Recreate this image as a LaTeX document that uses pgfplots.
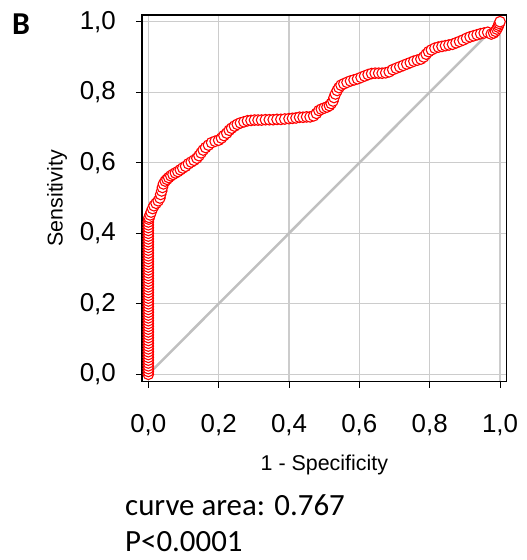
\documentclass[border=0pt]{standalone}
\usepackage{pgfplots}
\pgfplotsset{compat=1.18}
\usepackage{fontspec}
\setmainfont{Liberation Sans}
\newfontfamily\calfont{Carlito}
\definecolor{gridgray}{RGB}{204,204,204}
\definecolor{diaggray}{RGB}{192,192,192}
\definecolor{rocred}{RGB}{255,0,0}
\begin{document}
\begin{tikzpicture}
\path[use as bounding box] (-142bp,-178.3bp) rectangle (385bp,381.7bp);
\begin{axis}[
  scale only axis,
  width=364.7bp, height=366.7bp,
  xmin=-0.018, xmax=1.019, ymin=-0.021, ymax=1.019,
  xtick={0,0.2,0.4,0.6,0.8,1}, ytick={0,0.2,0.4,0.6,0.8,1},
  xtick pos=bottom, ytick pos=left,
  tick align=outside, major tick length=6bp,
  tick style={black, line width=1bp},
  axis line style={black, line width=1.3bp},
  grid=major, major grid style={gridgray, line width=1.3bp},
  /pgf/number format/assume math mode=true,
  /pgf/number format/use comma, /pgf/number format/fixed,
  /pgf/number format/fixed zerofill, /pgf/number format/precision=1,
  ticklabel style={font=\fontsize{26}{30}\selectfont},
  xticklabel style={anchor=base, inner sep=0pt, yshift=-45bp},
  yticklabel style={anchor=east, inner sep=0pt, xshift=-20bp},
  xlabel={1 - Specificity}, ylabel={Sensitivity},
  label style={font=\fontsize{21.5}{24}\selectfont},
  xlabel style={at={(rel axis cs:0.5,0)}, anchor=base, yshift=-88.3bp, inner sep=0pt},
  ylabel style={at={(rel axis cs:0,0.5)}, anchor=center, yshift=85bp, inner sep=0pt},
  clip=false,
]
\addplot[diaggray, line width=2.5bp] coordinates {(0,0) (1,1)};
\addplot[only marks, mark=*, mark size=5.3bp, mark options={draw=rocred, fill=white, line width=1.1bp}] coordinates {
(0,0) (0,0.008) (0,0.016) (0,0.024) (0,0.032) (0,0.04) (0,0.048) (0,0.056) (0,0.064) (0,0.072)
(0,0.08) (0,0.088) (0,0.096) (0,0.104) (0,0.112) (0,0.12) (0,0.128) (0,0.136) (0,0.144) (0,0.152)
(0,0.16) (0,0.168) (0,0.176) (0,0.184) (0,0.192) (0,0.2) (0,0.208) (0,0.216) (0,0.224) (0,0.232)
(0,0.24) (0,0.248) (0,0.256) (0,0.264) (0,0.272) (0,0.28) (0,0.288) (0,0.296) (0,0.304) (0,0.312)
(0,0.32) (0,0.328) (0,0.336) (0,0.344) (0,0.352) (0,0.36) (0,0.368) (0,0.376) (0,0.384) (0,0.392)
(0,0.4) (0,0.408) (0,0.416) (0,0.424) (0,0.432) (0.001,0.44)
(0.002,0.445) (0.005,0.452) (0.008,0.46) (0.012,0.47) (0.016,0.478) (0.022,0.485) (0.028,0.492)
(0.033,0.5) (0.035,0.51) (0.038,0.52) (0.04,0.53) (0.043,0.54) (0.048,0.548) (0.053,0.553)
(0.058,0.558) (0.064,0.563) (0.07,0.567) (0.077,0.571) (0.084,0.575) (0.091,0.58) (0.098,0.585)
(0.106,0.59) (0.114,0.597) (0.122,0.602) (0.13,0.607) (0.138,0.613) (0.144,0.62) (0.15,0.628)
(0.156,0.636) (0.163,0.643) (0.171,0.65) (0.18,0.657) (0.19,0.661) (0.2,0.664) (0.208,0.67)
(0.215,0.677) (0.223,0.684) (0.23,0.692) (0.237,0.698) (0.245,0.704) (0.253,0.709) (0.262,0.713)
(0.272,0.716) (0.282,0.719) (0.292,0.72) (0.302,0.721) (0.312,0.721) (0.322,0.721) (0.333,0.722)
(0.344,0.722) (0.355,0.722) (0.366,0.723) (0.377,0.723) (0.388,0.724) (0.4,0.725) (0.41,0.726)
(0.42,0.727) (0.43,0.729) (0.44,0.729) (0.45,0.73) (0.46,0.73) (0.47,0.733) (0.478,0.74)
(0.485,0.748) (0.492,0.752) (0.5,0.755) (0.508,0.758) (0.515,0.762) (0.52,0.768) (0.525,0.775)
(0.528,0.785) (0.532,0.795) (0.537,0.805) (0.542,0.813) (0.548,0.82) (0.556,0.824) (0.565,0.828)
(0.575,0.832) (0.585,0.835) (0.595,0.838) (0.605,0.842) (0.615,0.846) (0.625,0.85) (0.635,0.853)
(0.645,0.854) (0.655,0.854) (0.665,0.854) (0.675,0.855) (0.685,0.858) (0.695,0.864) (0.705,0.868)
(0.715,0.872) (0.725,0.876) (0.735,0.88) (0.745,0.884) (0.755,0.888) (0.765,0.891) (0.775,0.894)
(0.783,0.9) (0.79,0.908) (0.797,0.915) (0.805,0.92) (0.815,0.925) (0.825,0.928) (0.835,0.93)
(0.845,0.932) (0.855,0.934) (0.865,0.936) (0.875,0.94) (0.885,0.944) (0.895,0.948) (0.905,0.953)
(0.915,0.957) (0.925,0.96) (0.935,0.963) (0.945,0.966) (0.955,0.968) (0.965,0.97) (0.975,0.965)
(0.982,0.968) (0.987,0.973) (0.991,0.979) (0.994,0.985) (0.996,0.99) (0.998,0.995) (1,1)
};
\end{axis}
\node[anchor=base west, inner sep=0pt, font=\calfont\bfseries\fontsize{32}{36}\selectfont] at (-130bp,346.7bp) {B};
\node[anchor=base west, inner sep=0pt, font=\calfont\fontsize{31}{36}\selectfont] at (-17bp,-133.3bp) {curve area: 0.767};
\node[anchor=base west, inner sep=0pt, font=\calfont\fontsize{31}{36}\selectfont] at (-17bp,-170bp) {P<0.0001};
\end{tikzpicture}
\end{document}
